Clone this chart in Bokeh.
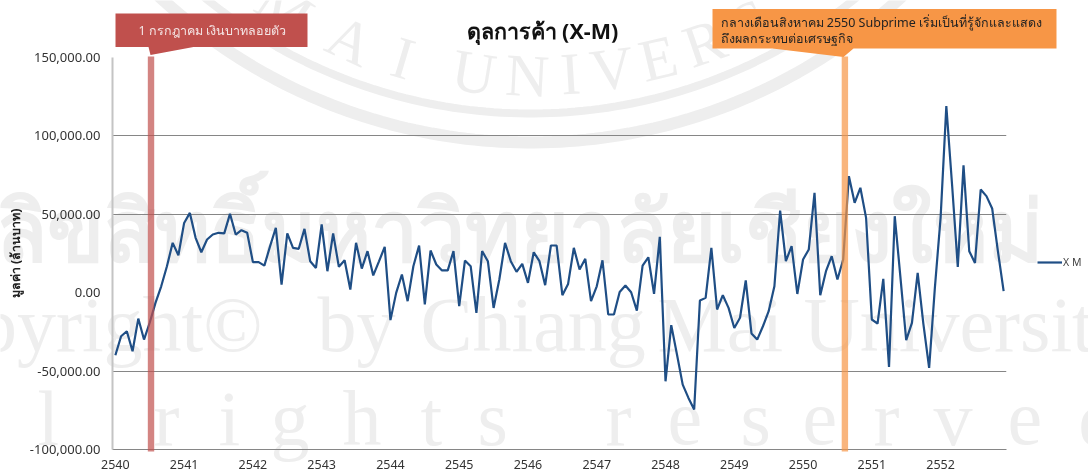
import numpy as np
from bokeh.plotting import figure
from bokeh.embed import file_html
from bokeh.resources import INLINE
from bokeh.models import (FixedTicker, NumeralTickFormatter, Label, PolyAnnotation, BoxAnnotation,
                          Legend, LegendItem)

title_text = "ดุลการค้า (X-M)"
y_title = "มูลค่า (ล้านบาท)"
series_name = "X M"
years = [2540, 2541, 2542, 2543, 2544, 2545, 2546, 2547, 2548, 2549, 2550, 2551, 2552]
y_ticks = [-100000, -50000, 0, 50000, 100000, 150000]
grid_ticks = [-100000, -50000, 50000, 100000]
trade_balance = [
    -39900, -27800, -24600, -37300, -16500, -29900, -19000, -6500, 4100, 16900, 31800, 23900,
    44500, 50900, 35000, 25800, 33900, 37100, 38200, 37800, 50300, 37100, 39900, 38200,
    19500, 19500, 17300, 29700, 41400, 5200, 37800, 28600, 28000, 40700, 20100, 15800,
    43500, 13700, 37800, 16500, 20700, 2000, 31800, 15400, 26500, 11000, 20000, 29200,
    -17500, -100, 11600, -5400, 16900, 30100, -7500, 26900, 18000, 14200, 14200, 26500,
    -8600, 20500, 16900, -12900, 26500, 20100, -9700, 8400, 31800, 20100, 13300, 18400,
    6300, 25800, 20100, 4800, 30100, 30100, -1600, 5600, 28600, 14800, 21600, -5400,
    4100, 20700, -13900, -13900, 500, 4600, 300, -11400, 17300, 22600, -800, 35600,
    -56500, -20700, -39400, -58600, -67100, -74500, -5000, -3300, 28600, -10700, -1600, -9700,
    -22500, -16000, 7800, -26000, -29900, -21400, -11800, 4100, 52400, 20100, 29700, -800,
    21200, 27600, 63700, -1600, 13700, 23300, 8400, 21200, 74300, 57300, 66900, 47700,
    -17100, -19700, 8800, -47300, 48800, 9500, -30300, -19300, 12600, -20000, -48000, 3100,
    47700, 119000, 69000, 16500, 81200, 26500, 19000, 65800, 61600, 53700, 26500, 1000,
]
event_positions = [6.72, 127.8]
event_colors = ["#C0504D", "#F79646"]

xs = [i + 0.5 for i in range(len(trade_balance))]
W, H = 1088, 474
L, R, T, B = 112, 1006, 57, 449
FIXED = {"position": "fixed", "left": "0px", "top": "0px"}

def layer(bg):
    f = figure(width=W, height=H, output_backend="svg", toolbar_location=None,
               x_range=(0, W), y_range=(H, 0), x_axis_location=None, y_axis_location=None,
               min_border=0, outline_line_color=None, styles=FIXED,
               background_fill_color="white", border_fill_color="white",
               background_fill_alpha=bg, border_fill_alpha=bg)
    f.grid.visible = False
    return f

back = layer(1)
front = layer(0)

p = figure(width=W, height=H, output_backend="svg", toolbar_location=None,
           x_range=(0, len(trade_balance)), y_range=(-100000, 150000),
           min_border_left=L, min_border_right=W - R, min_border_top=T, min_border_bottom=H - B,
           outline_line_color=None, background_fill_alpha=0, border_fill_alpha=0, styles=FIXED)

WM = "#EEEEEE"

def wm(text, x, y, size, font="Liberation Serif", align="left", angle=0, style="normal"):
    back.add_layout(Label(x=x, y=y, text=text, text_font=font, text_font_size=f"{size}px",
                          text_color=WM, text_align=align, angle=angle, text_baseline="alphabetic",
                          text_font_style=style))

# seal of the background watermark
CX, CY = 530, -403
for r, w in [(545, 12), (516, 8)]:
    t = np.linspace(np.pi * 0.1, np.pi * 0.9, 160)
    back.line(CX + r * np.cos(t), CY + r * np.sin(t), line_color=WM, line_width=w)
for ch, x in [("M", 262), ("A", 330), ("I", 393), ("U", 452), ("N", 505), ("I", 560), ("V", 590), ("E", 640),
              ("R", 685), ("S", 735)]:
    r = 478
    y = CY + np.sqrt(r * r - (x - CX) ** 2)
    wm(ch, x, float(y), 60, angle=float(np.arctan((x - CX) / (y - CY))))

wm("ลิขสิทธิ์มหาวิทยาลัยเชียงใหม่", -5, 228, 84, font="Noto Sans", style="bold")
wm("Copyright©", 262, 324, 78, align="right")
wm("by", 317, 324, 78)
wm("Chiang", 420, 324, 78)
wm("Mai", 657, 324, 78)
wm("University", 803, 324, 78)
for ch, x in [("l", 37), ("r", 153), ("i", 218), ("g", 270), ("h", 342), ("t", 420), ("s", 477), ("r", 605),
              ("e", 667), ("s", 740), ("e", 802), ("r", 873), ("v", 933), ("e", 1007), ("d", 1078)]:
    wm(ch, x, 418, 78)

p.xgrid.visible = False
p.ygrid.ticker = FixedTicker(ticks=grid_ticks)
p.ygrid.grid_line_color = "#868686"
p.ygrid.grid_line_width = 1

p.xaxis.ticker = FixedTicker(ticks=[i * 12 + 0.5 for i in range(len(years))])
p.xaxis.major_label_overrides = {i * 12 + 0.5: str(y) for i, y in enumerate(years)}
p.xaxis.major_tick_line_color = None
p.xaxis.major_tick_out = 0
p.xaxis.minor_tick_line_color = None
p.xaxis.axis_line_color = "#868686"
p.xaxis.major_label_text_font = "Noto Sans"
p.xaxis.major_label_text_font_size = "12.5px"
p.xaxis.major_label_text_color = "#333333"
p.xaxis.major_label_standoff = 10

p.yaxis.ticker = FixedTicker(ticks=y_ticks)
p.yaxis.formatter = NumeralTickFormatter(format="0,0.00")
p.yaxis.major_tick_line_color = None
p.yaxis.major_tick_out = 0
p.yaxis.minor_tick_line_color = None
p.yaxis.axis_line_color = "#C4C4C4"
p.yaxis.axis_line_width = 2
p.yaxis.major_label_text_font = "Noto Sans"
p.yaxis.major_label_text_font_size = "13px"
p.yaxis.major_label_text_color = "#333333"
p.yaxis.major_label_standoff = 12
p.yaxis.axis_label = y_title
p.yaxis.axis_label_text_font = "Noto Sans"
p.yaxis.axis_label_text_font_size = "12.5px"
p.yaxis.axis_label_text_font_style = "bold"
p.yaxis.axis_label_text_color = "#222222"
p.yaxis.axis_label_standoff = 3

p.title.text = title_text
p.title.align = "left"
p.title.offset = 354
p.title.standoff = 25
p.title.text_font = "Noto Sans"
p.title.text_font_size = "21.5px"
p.title.text_font_style = "bold"
p.title.text_color = "#111111"

line = p.line(xs, trade_balance, line_color="#1F4E85", line_width=2.2)

# event bands, placed through the chart's own month scale
for pos, col in zip(event_positions, event_colors):
    cx = L + pos * (R - L) / len(trade_balance)
    front.add_layout(BoxAnnotation(left=cx - 3.2, right=cx + 3.2, top=56, bottom=451,
                                   fill_color=col, fill_alpha=0.7, line_color=None))

# legend of the series, outside the chart's frame; its key line lies off the canvas
key = front.line([-20, -10], [-20, -20], line_color="#1F4E85", line_width=2.2)
front.add_layout(Legend(items=[LegendItem(label=series_name, renderers=[key])],
                        location=(1037, 205), border_line_color=None, background_fill_alpha=0,
                        glyph_width=25, glyph_height=10, label_standoff=1, padding=0, margin=0, spacing=0,
                        label_text_font="Noto Sans", label_text_font_size="10.5px", label_text_color="#444444"))

# callouts
front.add_layout(PolyAnnotation(xs=[115, 307, 307, 193, 150, 148, 115], ys=[13, 13, 46.5, 46.5, 54.5, 46.5, 46.5],
                                fill_color="#C0504D", fill_alpha=1, line_color=None))
front.add_layout(PolyAnnotation(xs=[712, 1056, 1056, 853, 843, 772, 712], ys=[8.5, 8.5, 48, 48, 56.5, 48, 48],
                                fill_color="#F79646", fill_alpha=1, line_color=None))

def callout(text, x, y, color):
    front.add_layout(Label(x=x, y=y, text=text, text_font="Noto Sans", text_font_size="12.5px",
                           text_color=color, text_baseline="middle"))

callout("1 กรกฎาคม เงินบาทลอยตัว", 138, 30, "#F4E4E4")
callout("กลางเดือนสิงหาคม 2550 Subprime เริ่มเป็นที่รู้จักและแสดง", 720, 22, "#222222")
callout("ถึงผลกระทบต่อเศรษฐกิจ", 720, 38, "#222222")

open("out.html", "w").write(file_html((back, p, front), INLINE))
